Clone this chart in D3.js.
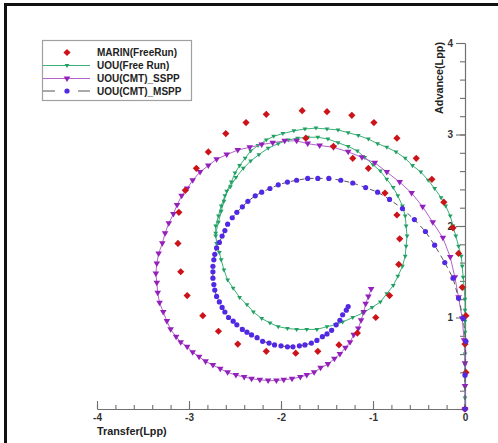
<!DOCTYPE html>
<html>
<head>
<meta charset="utf-8">
<script src="https://cdn.jsdelivr.net/npm/d3@7"></script>
<style>
  html, body { margin: 0; padding: 0; background: #fff; }
  svg { display: block; font-family: "Liberation Sans", Arial, Helvetica, sans-serif; }
</style>
</head>
<body>
<svg id="chart" width="498" height="443"></svg>
<script>
// ---- turning-circle trajectories, [transfer, advance] in ship lengths ----
const seriesNames = ["MARIN(FreeRun)", "UOU(Free Run)", "UOU(CMT)_SSPP", "UOU(CMT)_MSPP"];
const xTickValues = [-4, -3, -2, -1, 0];
const yTickValues = [0, 1, 2, 3, 4];

const marinFreeRun = [
  [0,0],[0.01,0.40],[0,0.71],[0.01,1.02],[-0.03,1.33],[-0.07,1.70],[-0.13,1.98],[-0.23,2.26],
  [-0.36,2.51],[-0.53,2.74],[-0.74,2.96],[-0.99,3.13],[-1.23,3.21],[-1.50,3.25],[-1.77,3.26],
  [-2.16,3.22],[-2.38,3.13],[-2.60,3.01],[-2.79,2.81],[-2.92,2.63],[-3.04,2.39],[-3.11,2.15],
  [-3.12,1.81],[-3.09,1.50],[-3.02,1.24],[-2.85,1.02],[-2.68,0.85],[-2.47,0.71],[-2.16,0.63],
  [-1.84,0.61],[-1.60,0.63],[-1.37,0.70],[-1.17,0.83],[-0.97,1.00],[-0.82,1.24],[-0.72,1.58],
  [-0.71,1.86],[-0.74,2.12],[-0.87,2.36],[-1.05,2.63],[-1.22,2.74],[-1.43,2.87],[-1.73,2.96]
];

const uouFreeRun = [
  [0,0],[0,0.12],[0,0.24],[0,0.36],[0,0.48],[0,0.60],[0,0.72],[0,0.84],[0,0.96],[0,1.08],[0,1.20],
  [-0.01,1.32],[-0.02,1.44],[-0.03,1.56],[-0.04,1.67],[-0.07,1.78],[-0.10,1.89],[-0.13,2.00],
  [-0.16,2.11],[-0.21,2.22],[-0.26,2.31],[-0.33,2.41],[-0.40,2.50],[-0.48,2.59],[-0.57,2.66],
  [-0.65,2.74],[-0.75,2.81],[-0.85,2.86],[-0.95,2.90],[-1.05,2.95],[-1.16,2.99],[-1.27,3.02],
  [-1.38,3.05],[-1.50,3.06],[-1.62,3.07],[-1.74,3.06],[-1.86,3.04],[-1.98,3.01],[-2.08,2.98],
  [-2.16,2.94],[-2.25,2.88],[-2.33,2.82],[-2.39,2.74],[-2.45,2.66],[-2.50,2.58],[-2.54,2.48],
  [-2.59,2.38],[-2.62,2.27],[-2.65,2.16],[-2.68,2.04],[-2.71,1.92],
  [-2.70,1.81],[-2.67,1.71],[-2.65,1.63],[-2.62,1.52],[-2.58,1.41],[-2.52,1.32],[-2.45,1.22],
  [-2.37,1.14],[-2.30,1.06],[-2.21,0.99],[-2.12,0.94],[-2.03,0.90],[-1.93,0.88],[-1.83,0.87],
  [-1.72,0.87],[-1.61,0.87],[-1.50,0.90],[-1.41,0.92],[-1.33,0.95],[-1.22,1.00],[-1.11,1.05],
  [-1.01,1.11],[-0.92,1.17],[-0.85,1.26],[-0.78,1.35],[-0.73,1.45],[-0.68,1.56],[-0.65,1.67],
  [-0.64,1.78],[-0.63,1.89],[-0.64,2.00],[-0.65,2.11],[-0.68,2.22],[-0.73,2.33],[-0.78,2.42],
  [-0.85,2.51],[-0.92,2.60],[-1.00,2.67],[-1.09,2.75],[-1.17,2.82],[-1.27,2.87],[-1.38,2.91],
  [-1.49,2.95],[-1.60,2.97],[-1.71,2.97],[-1.82,2.96],[-1.92,2.94],[-2.03,2.90],[-2.14,2.85],
  [-2.24,2.78],[-2.33,2.71],[-2.41,2.63],[-2.49,2.53],[-2.55,2.43],[-2.61,2.33],[-2.65,2.22],
  [-2.68,2.11],[-2.71,2.00],[-2.71,1.89]
];

const uouSSPP = [
  [0,0],[0,0.25],[0,0.50],[-0.01,0.75],[-0.03,0.99],[-0.07,1.22],[-0.11,1.44],[-0.16,1.66],
  [-0.24,1.87],[-0.35,2.04],[-0.46,2.21],[-0.58,2.36],[-0.71,2.48],[-0.85,2.59],[-0.98,2.69],
  [-1.12,2.75],[-1.27,2.81],[-1.43,2.86],[-1.58,2.88],[-1.71,2.90],[-1.83,2.93],[-1.96,2.93],
  [-2.09,2.91],[-2.21,2.89],[-2.34,2.86],[-2.47,2.83],[-2.59,2.78],[-2.70,2.73],[-2.79,2.66],
  [-2.88,2.59],[-2.96,2.50],[-3.02,2.41],[-3.08,2.33],[-3.13,2.23],[-3.17,2.13],[-3.22,2.03],
  [-3.26,1.92],[-3.29,1.81],[-3.33,1.70],[-3.35,1.59],[-3.36,1.48],[-3.35,1.38],[-3.34,1.27],
  [-3.32,1.16],[-3.28,1.06],[-3.24,0.96],[-3.20,0.87],
  [-3.14,0.79],[-3.09,0.73],[-3.02,0.68],[-2.96,0.62],[-2.89,0.57],[-2.82,0.52],[-2.74,0.48],
  [-2.66,0.44],[-2.58,0.40],[-2.49,0.37],[-2.40,0.35],[-2.32,0.33],[-2.23,0.32],[-2.14,0.31],
  [-2.05,0.31],[-1.97,0.32],[-1.88,0.33],[-1.79,0.35],[-1.72,0.37],[-1.64,0.40],[-1.57,0.45],
  [-1.49,0.49],[-1.42,0.55],[-1.36,0.60],[-1.30,0.67],[-1.25,0.73],[-1.21,0.81],[-1.16,0.88],
  [-1.13,0.97],[-1.10,1.06],[-1.08,1.15],[-1.05,1.23],[-1.02,1.31]
];

const uouMSPP = [
  [0,0],[0,0.37],[0.01,0.74],[-0.02,0.99],[-0.07,1.21],[-0.13,1.43],[-0.22,1.60],[-0.33,1.79],
  [-0.43,1.94],[-0.55,2.07],[-0.68,2.19],[-0.82,2.29],[-0.95,2.37],[-1.08,2.42],[-1.22,2.47],
  [-1.35,2.50],[-1.48,2.52],[-1.60,2.52],[-1.71,2.52],[-1.83,2.50],[-1.93,2.48],[-2.03,2.45],
  [-2.12,2.41],[-2.21,2.37],[-2.28,2.33],[-2.36,2.27],[-2.42,2.21],[-2.48,2.15],[-2.53,2.09],
  [-2.58,2.02],[-2.61,1.95],[-2.64,1.89],[-2.67,1.82],[-2.70,1.76],[-2.72,1.69],[-2.73,1.63],
  [-2.74,1.56],[-2.74,1.50],[-2.74,1.43],[-2.73,1.36],[-2.72,1.30],[-2.70,1.23],[-2.67,1.17],
  [-2.64,1.11],[-2.61,1.06],[-2.57,1.00],[-2.52,0.96],[-2.48,0.92],[-2.42,0.87],[-2.37,0.84],
  [-2.32,0.81],[-2.26,0.78],[-2.20,0.74],[-2.13,0.72],[-2.07,0.70],[-2.00,0.69],[-1.93,0.68],
  [-1.87,0.68],[-1.80,0.69],[-1.74,0.70],[-1.67,0.72],[-1.61,0.75],[-1.55,0.79],[-1.50,0.82],
  [-1.45,0.86],[-1.40,0.92],[-1.36,0.97],[-1.33,1.03],[-1.29,1.08],[-1.27,1.12]
];

// ---- layout ----
const W = 498, H = 443;
const svg = d3.select("#chart");
const x = d3.scaleLinear().domain([-4, 0]).range([97, 465]);
const y = d3.scaleLinear().domain([0, 4]).range([409, 43]);

svg.append("rect").attr("width", W).attr("height", H).attr("fill", "#fff");
// page frame (top and left edges)
svg.append("path").attr("d", "M5.5,443V4.5H498")
  .attr("fill", "none").attr("stroke", "#111").attr("stroke-width", 3);

// ---- marker shapes ----
const shapes = {
  diamond: r => `M0,${-r}L${r},0L0,${r}L${-r},0Z`,
  del: r => `M${-r},${-r * 0.62}L${r},${-r * 0.62}L0,${r * 1.05}Z`,
  circle: r => `M${r},0A${r},${r} 0 1,1 ${-r},0A${r},${r} 0 1,1 ${r},0Z`
};

const series = [
  { name: seriesNames[0], data: marinFreeRun, shape: "diamond", size: 3.6, fill: "#cc1319", line: null, dash: null },
  { name: seriesNames[1], data: uouFreeRun, shape: "del", size: 2.4, fill: "#22a064", line: "#3bb077", dash: null },
  { name: seriesNames[2], data: uouSSPP, shape: "del", size: 3.3, fill: "#9420bc", line: "#b164cc", dash: null },
  { name: seriesNames[3], data: uouMSPP, shape: "circle", size: 2.6, fill: "#5128e4", line: "#555", dash: "5,4" }
];

// ---- axes ----
const axisColor = "#707070";
function styleAxis(g) {
  g.selectAll("path, line").attr("stroke", axisColor).attr("stroke-width", 1.1);
  g.selectAll("text").attr("fill", "#333").attr("font-size", 10).attr("font-weight", "bold")
    .attr("font-family", "'Liberation Sans', Arial, sans-serif");
}
const minorX = d3.range(0, 21).map(i => -4 + i * 0.2);
const minorY = d3.range(0, 21).map(i => i * 0.2);

svg.append("g").attr("transform", "translate(0,409)")
  .call(d3.axisBottom(x).tickValues(minorX).tickSize(-4).tickSizeOuter(0).tickFormat(""))
  .call(styleAxis);
svg.append("g").attr("transform", "translate(0,409)")
  .call(d3.axisBottom(x).tickValues(xTickValues).tickSize(-8).tickSizeOuter(0).tickPadding(5)
    .tickFormat(d => String(d)))
  .call(styleAxis);

svg.append("g").attr("transform", "translate(465,0)")
  .call(d3.axisLeft(y).tickValues(minorY).tickSize(5).tickSizeOuter(0).tickFormat(""))
  .call(styleAxis);
svg.append("g").attr("transform", "translate(465,0)")
  .call(d3.axisLeft(y).tickValues(yTickValues).tickSize(9).tickSizeOuter(0).tickPadding(3)
    .tickFormat(d => d === 0 ? "" : String(d)))
  .call(styleAxis);

svg.append("text").attr("x", 97).attr("y", 434.5)
  .attr("font-size", 10.8).attr("font-weight", "bold").attr("fill", "#222")
  .text("Transfer(Lpp)");
svg.append("text").attr("transform", "translate(443,42) rotate(-90)")
  .attr("text-anchor", "end")
  .attr("font-size", 10.8).attr("font-weight", "bold").attr("fill", "#222")
  .text("Advance(Lpp)");

// ---- trajectories ----
const lineGen = d3.line().x(d => x(d[0])).y(d => y(d[1]));
const plot = svg.append("g");

const drawOrder = [1, 2, 0, 3];
drawOrder.forEach(i => {
  const s = series[i];
  const g = plot.append("g");
  if (s.line) {
    g.append("path").datum(s.data).attr("d", lineGen)
      .attr("fill", "none").attr("stroke", s.line).attr("stroke-width", 1)
      .attr("stroke-dasharray", s.dash);
  }
  g.selectAll("path.mk").data(s.data).join("path").attr("class", "mk")
    .attr("transform", d => `translate(${x(d[0])},${y(d[1])})`)
    .attr("d", shapes[s.shape](s.size))
    .attr("fill", s.fill);
});

// ---- legend ----
const lg = svg.append("g");
lg.append("rect").attr("x", 42.5).attr("y", 40.5).attr("width", 149).attr("height", 60)
  .attr("fill", "#fff").attr("stroke", "#a0a0a0").attr("stroke-width", 1.2);
const rowY = [52.5, 65.5, 78.5, 91];
series.forEach((s, i) => {
  const ry = rowY[i];
  if (s.line) {
    lg.append("line").attr("x1", 43).attr("x2", 90).attr("y1", ry).attr("y2", ry)
      .attr("stroke", s.line).attr("stroke-width", 1)
      .attr("stroke-dasharray", s.dash ? "12,23" : null);
  }
  lg.append("path").attr("transform", `translate(67,${ry})`)
    .attr("d", shapes[s.shape](s.size)).attr("fill", s.fill);
  lg.append("text").attr("x", 97).attr("y", ry + 3.6)
    .attr("font-size", 10).attr("font-weight", "bold").attr("fill", "#222")
    .text(s.name);
});
</script>
</body>
</html>
